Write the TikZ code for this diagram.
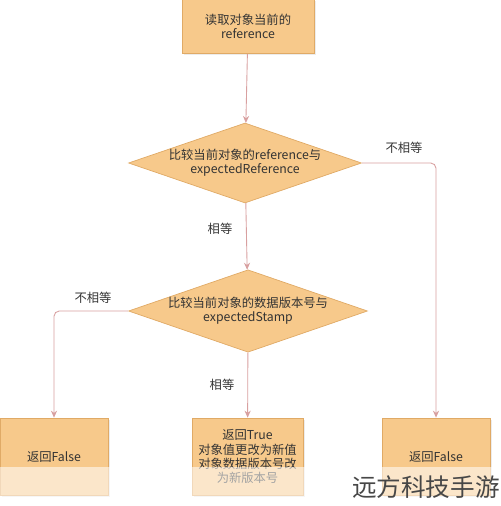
\documentclass[tikz,border=0pt]{standalone}
\usepackage{fontspec}
\setmainfont{Noto Sans CJK SC}
\usetikzlibrary{shapes.geometric,shadows,arrows.meta}
\definecolor{boxfill}{HTML}{F7C98B}
\definecolor{boxline}{HTML}{E0AA66}
\definecolor{flowline}{HTML}{D8A0A0}
\definecolor{txt}{HTML}{333333}
\tikzset{
  flowbox/.style={rectangle, draw=boxline, fill=boxfill, text=txt, inner sep=0pt,
    align=center, font=\fontsize{7}{8}\selectfont,
    drop shadow={opacity=0.15, shadow xshift=1pt, shadow yshift=-1pt}},
  flowtest/.style={diamond, draw=boxline, fill=boxfill, text=txt, inner sep=0pt,
    aspect=2.9, align=center, font=\fontsize{7}{8}\selectfont,
    minimum width=4.66cm, minimum height=1.6cm},
  flowarrow/.style={draw=flowline, line width=0.5pt, rounded corners=3pt,
    -{Stealth[length=4pt,width=3.5pt]}},
  flowlabel/.style={text=txt, font=\fontsize{7}{8}\selectfont, inner sep=0pt}
}
\begin{document}
\begin{tikzpicture}[x=0.02cm, y=-0.02cm]
  \useasboundingbox (0,0) rectangle (500,506);
  % top step
  \node[flowbox, minimum width=2.64cm, minimum height=1.08cm] (read) at (248,26.5)
    {读取对象当前的\\reference};
  % the two tests
  \node[flowtest] (cmpref) at (245,163)
    {比较当前对象的reference与\\expectedReference};
  \node[flowtest] (cmpstamp) at (248,311)
    {比较当前对象的数据版本号与\\expectedStamp};
  % results
  \node[flowbox, minimum width=2.16cm, minimum height=1.54cm] (failleft) at (54,456.5)
    {返回False};
  \node[flowbox, minimum width=2.22cm, minimum height=1.54cm, text width=2.1cm] (success) at (247.5,456.5)
    {返回True\\对象值更改为新值\\对象数据版本号改\\为新版本号};
  \node[flowbox, minimum width=2.16cm, minimum height=1.54cm] (failright) at (436,456.5)
    {返回False};
  % connectors
  \draw[flowarrow] (read) -- (cmpref);
  \draw[flowarrow] (cmpref.east) -| (failright.north);
  \draw[flowarrow] (cmpref) -- (cmpstamp);
  \draw[flowarrow] (cmpstamp.west) -| (failleft.north);
  \draw[flowarrow] (cmpstamp) -- (success);
  % labels
  \node[flowlabel] (neqref) at (404,148) {不相等};
  \node[flowlabel] (eqref) at (220,229) {相等};
  \node[flowlabel] (neqstamp) at (93,298) {不相等};
  \node[flowlabel] (eqstamp) at (222,385) {相等};
  % watermark
  \fill[white, opacity=0.55] (0,467) rectangle (500,506);
  \node[text=txt!90, font=\fontsize{14}{16}\selectfont, anchor=east, inner sep=0pt] (mark) at (500,487)
    {远方科技手游};
\end{tikzpicture}
\end{document}
